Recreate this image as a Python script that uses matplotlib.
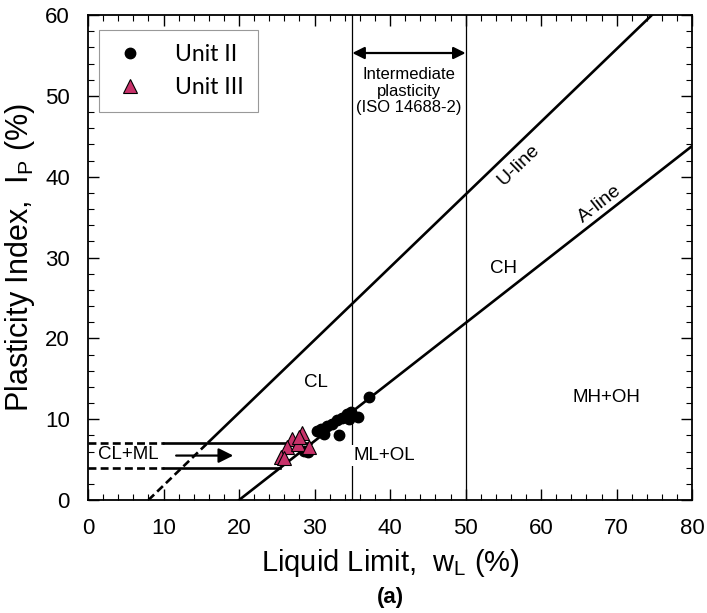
import matplotlib
matplotlib.use("Agg")
import matplotlib.pyplot as plt
import numpy as np

plt.rcParams['font.family'] = ['Liberation Sans', 'DejaVu Sans']
plt.rcParams['mathtext.fontset'] = 'custom'
plt.rcParams['mathtext.rm'] = 'Liberation Sans Narrow'

NARROW = ['Liberation Sans Narrow', 'Liberation Sans', 'DejaVu Sans']

# Data
unit2_wl = [37.2, 35.8, 34.8, 34.3, 33.6, 33.0, 32.3, 31.6, 30.9, 30.3, 31.3, 33.3, 28.6, 29.1, 34.6]
unit2_ip = [12.8, 10.3, 10.9, 10.6, 10.1, 9.9, 9.4, 9.1, 8.8, 8.5, 8.2, 8.0, 6.1, 6.0, 10.0]
unit3_wl = [28.3, 27.0, 26.3, 27.8, 29.2, 25.5, 26.0, 28.0]
unit3_ip = [8.3, 7.5, 6.6, 6.9, 6.6, 5.3, 5.2, 7.8]

xticks = [0, 10, 20, 30, 40, 50, 60, 70, 80]
yticks = [0, 10, 20, 30, 40, 50, 60]

fig = plt.figure(figsize=(7.07, 6.13), dpi=100)
ax = fig.add_axes([0.1245, 0.1843, 0.8545, 0.7912])
ax.set_xlim(0, 80)
ax.set_ylim(0, 60)

lw_main = 1.9
# U-line
u = lambda w: 0.9 * (w - 8)
w_u_solid = np.array([16.0, 8 + 60 / 0.9])
ax.plot(w_u_solid, u(w_u_solid), color='black', lw=lw_main, zorder=2)
w_u_dash = np.array([8.0, 16.0])
ax.plot(w_u_dash, u(w_u_dash), color='black', lw=lw_main, ls=(0, (3, 1.6)), zorder=2)
# A-line
a = lambda w: 0.73 * (w - 20)
w_a = np.array([20.0, 80.0])
ax.plot(w_a, a(w_a), color='black', lw=lw_main, zorder=2)
# CL-ML band
for ip in (4, 7):
    wend = ip / 0.73 + 20
    ax.plot([10, wend], [ip, ip], color='black', lw=lw_main, zorder=2)
    ax.plot([0, 10], [ip, ip], color='black', lw=lw_main, ls=(0, (3, 1.6)), zorder=2)
# vertical lines
for w in (35, 50):
    ax.plot([w, w], [0, 60], color='black', lw=0.9, zorder=1)

# arrows
ax.annotate('', xy=(19.6, 5.5), xytext=(11.3, 5.5),
            arrowprops=dict(arrowstyle='-|>', color='black', lw=1.6, mutation_scale=22), zorder=3)
ax.annotate('', xy=(50, 55.3), xytext=(35, 55.3),
            arrowprops=dict(arrowstyle='<|-|>', color='black', lw=1.6, mutation_scale=18,
                            shrinkA=0, shrinkB=0), zorder=3)

ax.text(42.5, 50.6, 'Intermediate\nplasticity\n(ISO 14688-2)', ha='center', va='center',
        fontsize=12, linespacing=1.1)

# region labels
fs_lab = 13.5
ax.text(30.2, 14.6, 'CL', ha='center', va='center', fontsize=fs_lab)
ax.text(39.2, 5.5, 'ML+OL', ha='center', va='center', fontsize=fs_lab,
        bbox=dict(facecolor='white', edgecolor='none', pad=1.5), zorder=4)
ax.text(55.0, 28.7, 'CH', ha='center', va='center', fontsize=fs_lab)
ax.text(68.7, 12.7, 'MH+OH', ha='center', va='center', fontsize=fs_lab)
ax.text(5.3, 5.6, 'CL+ML', ha='center', va='center', fontsize=fs_lab,
        bbox=dict(facecolor='white', edgecolor='none', pad=0.5), zorder=4)
ax.text(57.0, 41.4, 'U-line', ha='center', va='center', fontsize=14, rotation=44)
ax.text(67.8, 36.6, 'A-line', ha='center', va='center', fontsize=14, rotation=38)

# data
ax.plot(unit2_wl, unit2_ip, 'o', color='black', ms=7.5, ls='none', zorder=5, label='Unit II')
ax.plot(unit3_wl, unit3_ip, '^', mfc='#C8326A', mec='black', mew=0.8, ms=9.5, ls='none',
        zorder=6, label='Unit III')

leg = ax.legend(loc='upper left', bbox_to_anchor=(0.0, 0.993), frameon=True,
                fancybox=False, edgecolor='#999999', framealpha=1, borderpad=0.6,
                handletextpad=1.2, labelspacing=0.55, handlelength=1.5,
                prop={'family': 'Lato', 'size': 16.5})
leg.get_frame().set_linewidth(0.8)

# ticks
ax.set_xticks(xticks)
ax.set_yticks(yticks)
ax.set_xticks(np.arange(0, 81, 2), minor=True)
ax.set_yticks(np.arange(0, 61, 2), minor=True)
ax.tick_params(which='both', direction='in', top=True, right=True)
ax.tick_params(which='major', length=8, width=1.0, labelsize=16, pad=13)
ax.tick_params(which='minor', length=4, width=0.8)
for lab in ax.get_xticklabels() + ax.get_yticklabels():
    lab.set_family(NARROW)
for s in ax.spines.values():
    s.set_linewidth(1.3)

ax.set_xlabel(r'Liquid Limit,  w$_\mathregular{L}$ (%)', fontsize=21, labelpad=6, family=NARROW)
ax.set_ylabel(r'Plasticity Index,  I$_\mathregular{P}$ (%)', fontsize=22, labelpad=6, family=NARROW)
fig.text(0.5 * (0.1245 + 0.979), 1 - 598 / 613, '(a)', ha='center', va='center',
         fontsize=16, fontweight='bold', family=NARROW)

fig.savefig('out.png', dpi=100)
